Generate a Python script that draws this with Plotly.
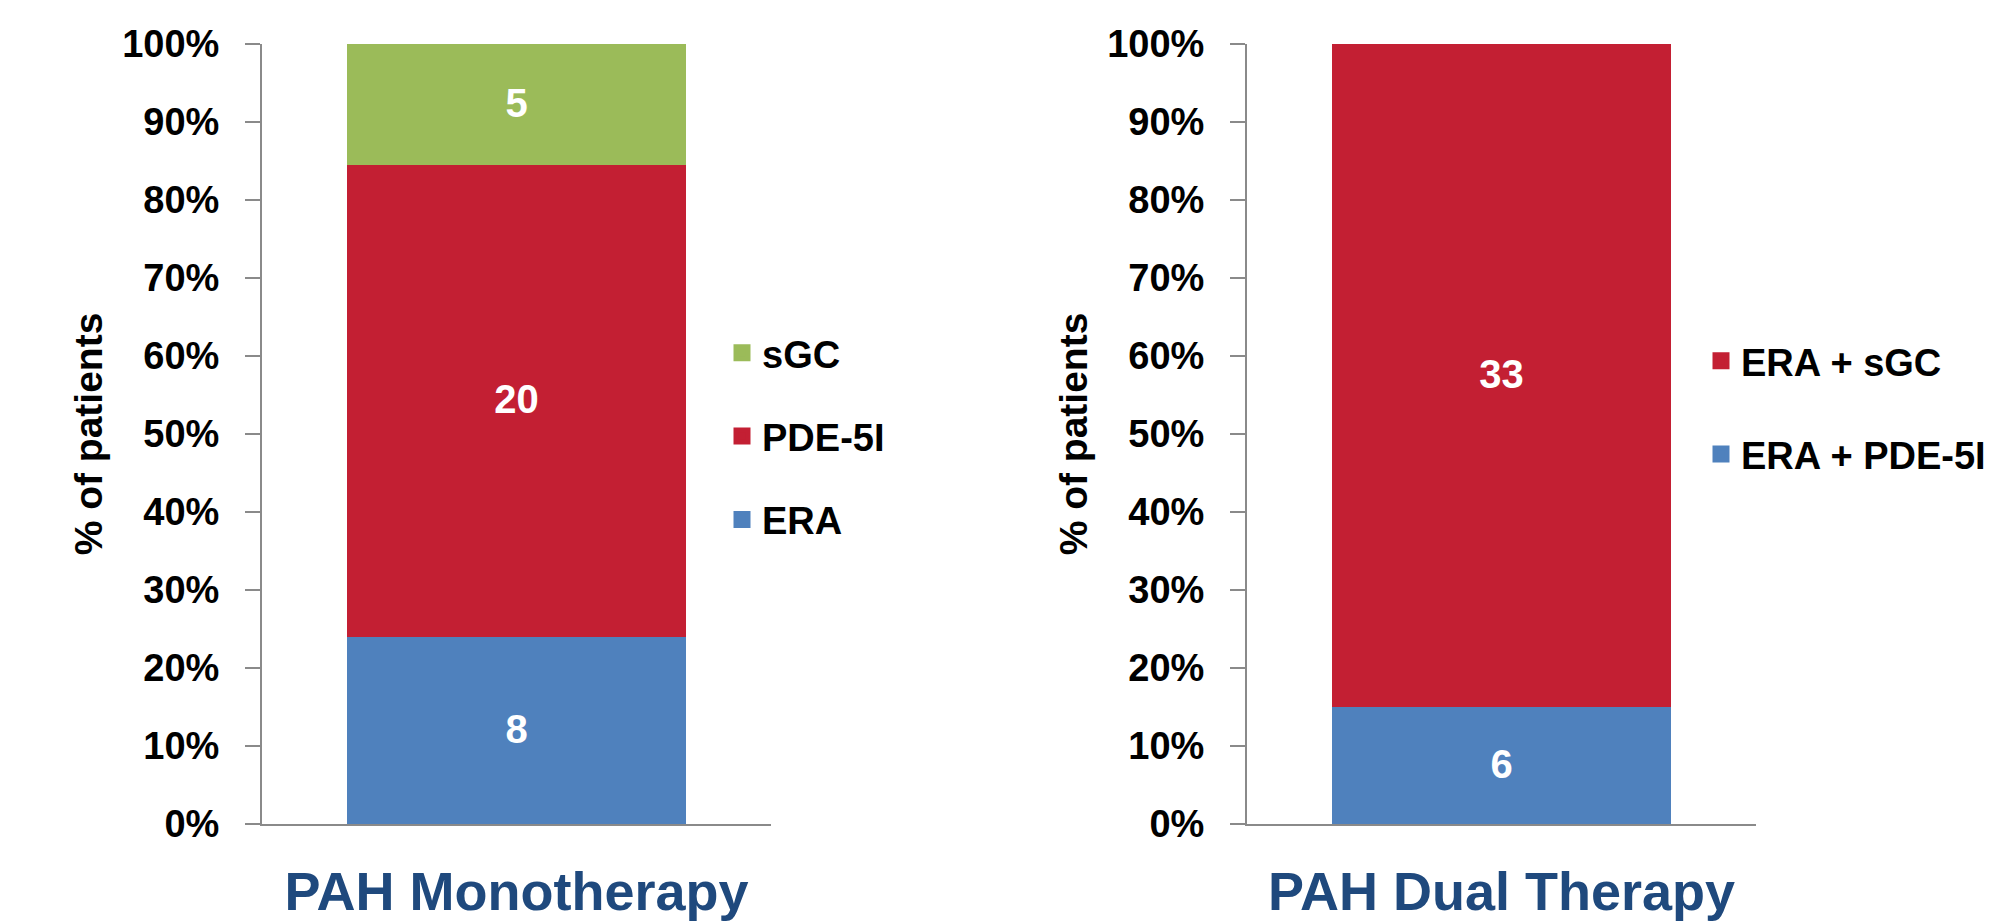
import plotly.graph_objects as go

# ---------------- data ----------------
mono_category = ["PAH Monotherapy"]
mono_series = ["ERA", "PDE-5I", "sGC"]
mono_counts = [8, 20, 5]
mono_colors = ["#4F81BD", "#C31F33", "#9BBB59"]

dual_category = ["PAH Dual Therapy"]
dual_series = ["ERA + PDE-5I", "ERA + sGC"]
dual_counts = [6, 33]
dual_colors = ["#4F81BD", "#C31F33"]

y_ticks = [0, 10, 20, 30, 40, 50, 60, 70, 80, 90, 100]
y_title = "% of patients"

# ---------------- style ----------------
SANS = "Liberation Sans, Arial, Helvetica, sans-serif"
AXIS_GREY = "#8A8A8A"
NAVY = "#1F497D"
W, H = 2000, 922
OFF = 8  # page body margin offset


def px_x(v):
    return (v - OFF) / W


def px_y(v):
    return 1 - (v - OFF) / H


fig = go.Figure()


def add_stack(categories, series, counts, colors, xref, yref, legend):
    total = sum(counts)
    k = len(series)
    for i, (name, n, col) in enumerate(zip(series, counts, colors)):
        fig.add_trace(go.Bar(
            x=categories,
            y=[n / total * 100],
            name=name,
            text=[str(n)],
            textposition="inside",
            insidetextanchor="middle",
            textangle=0,
            textfont=dict(family=SANS, size=40, color="white", weight="bold"),
            marker=dict(color=col, line=dict(color=col, width=5)),
            xaxis=xref,
            yaxis=yref,
            legend=legend,
            legendgroup=name,
            legendrank=k - i,
            hoverinfo="name+y",
        ))


add_stack(mono_category, mono_series, mono_counts, mono_colors, "x", "y", "legend")
add_stack(dual_category, dual_series, dual_counts, dual_colors, "x2", "y2", "legend2")

yaxis_common = dict(
    range=[0, 100],
    tickvals=y_ticks,
    ticktext=[f"{v}%" for v in y_ticks],
    ticks="outside",
    ticklen=15,
    tickwidth=2,
    tickcolor=AXIS_GREY,
    showline=True,
    linecolor=AXIS_GREY,
    linewidth=2,
    showgrid=False,
    zeroline=False,
    tickfont=dict(family=SANS, size=38, color="black", weight="bold"),
    ticklabelstandoff=18,
    title=dict(text=y_title, font=dict(family=SANS, size=39, color="black", weight="bold"), standoff=8),
    domain=[px_y(824), px_y(44)],
    automargin=False,
)

xaxis_common = dict(
    type="category",
    showline=True,
    linecolor=AXIS_GREY,
    linewidth=2,
    ticks="inside",
    tickson="boundaries",
    ticklen=16,
    tickwidth=2,
    tickcolor=AXIS_GREY,
    showgrid=False,
    zeroline=False,
    tickfont=dict(family=SANS, size=54, color=NAVY, weight="bold"),
    ticklabelstandoff=19,
    automargin=False,
)

legend_font = dict(family=SANS, size=38, color="black", weight="bold")

fig.update_layout(
    width=W,
    height=H,
    margin=dict(l=0, r=0, t=0, b=0),
    paper_bgcolor="white",
    plot_bgcolor="white",
    barmode="stack",
    bargap=0.342,
    showlegend=True,
    xaxis=dict(xaxis_common, domain=[px_x(262), px_x(771)], anchor="y"),
    yaxis=dict(yaxis_common, anchor="x"),
    xaxis2=dict(xaxis_common, domain=[px_x(1247), px_x(1756)], anchor="y2"),
    yaxis2=dict(yaxis_common, anchor="x2"),
    legend=dict(
        x=px_x(722), xanchor="left",
        y=px_y(436.5), yanchor="middle",
        traceorder="grouped",
        tracegroupgap=31,
        font=legend_font,
        bgcolor="rgba(0,0,0,0)",
    ),
    legend2=dict(
        x=px_x(1701), xanchor="left",
        y=px_y(407.5), yanchor="middle",
        traceorder="grouped",
        tracegroupgap=41,
        font=legend_font,
        bgcolor="rgba(0,0,0,0)",
    ),
)

fig.write_html("out.html")
